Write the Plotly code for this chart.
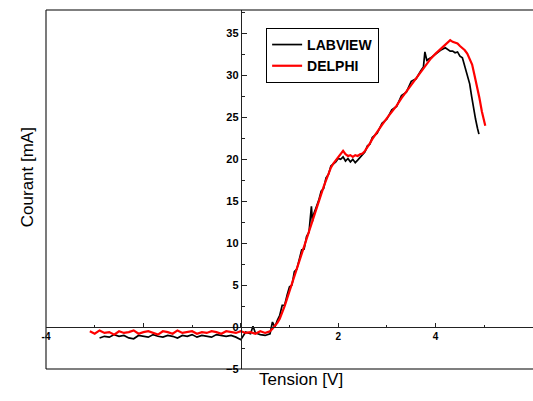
import plotly.graph_objects as go

# LABVIEW acquisition (black)
labview_v = [
    -2.9, -2.8, -2.7, -2.6, -2.5, -2.4, -2.3, -2.2, -2.1, -2.0,
    -1.9, -1.8, -1.7, -1.6, -1.5, -1.4, -1.3, -1.2, -1.1, -1.0,
    -0.9, -0.8, -0.7, -0.6, -0.5, -0.4, -0.3, -0.2, -0.1, 0.0,
    0.1, 0.2, 0.25, 0.3, 0.4, 0.5, 0.55,
    0.60, 0.65, 0.70, 0.75, 0.80, 0.85, 0.90, 0.95, 1.00, 1.05,
    1.10, 1.15, 1.20, 1.25, 1.30, 1.35, 1.40, 1.43, 1.45, 1.47,
    1.50, 1.55, 1.60, 1.65, 1.70, 1.75, 1.80, 1.85, 1.90, 1.95,
    2.00, 2.05, 2.10, 2.15, 2.20, 2.25, 2.30, 2.35, 2.40, 2.45,
    2.50, 2.55, 2.60, 2.65, 2.70, 2.80, 2.90, 3.00, 3.10, 3.20,
    3.30, 3.40, 3.50, 3.60, 3.70, 3.75, 3.78, 3.82, 3.90, 4.00,
    4.10, 4.20, 4.25, 4.30, 4.35, 4.40, 4.45, 4.50, 4.55, 4.58,
    4.62, 4.66, 4.70, 4.74, 4.78, 4.82, 4.86, 4.89,
]
labview_i = [
    -1.3, -1.1, -1.2, -0.9, -1.1, -1.0, -1.3, -1.4, -1.0, -1.1,
    -1.2, -0.9, -1.1, -1.2, -1.0, -1.1, -1.3, -1.0, -1.1, -0.9,
    -1.2, -1.0, -1.1, -1.2, -0.9, -1.0, -1.1, -1.0, -1.2, -1.5,
    -0.6, -0.8, 0.1, -0.7, -0.9, -1.0, -0.9,
    -0.8, 0.6, 0.0, 0.8, 1.4, 2.6, 2.6, 3.8, 4.8, 5.0,
    6.6, 6.9, 8.2, 9.2, 9.3, 10.8, 11.3, 13.0, 14.4, 12.6,
    13.5, 14.3, 15.1, 16.2, 16.5, 17.8, 18.2, 19.2, 19.4, 19.7,
    20.1, 20.0, 20.3, 19.8, 20.1, 19.7, 20.0, 19.6, 19.9, 20.2,
    20.5, 20.9, 21.6, 21.8, 22.6, 23.1, 24.3, 24.8, 25.9, 26.3,
    27.6, 28.0, 29.3, 29.6, 30.6, 31.0, 32.8, 31.8, 32.1, 32.6,
    33.0, 33.3, 33.1, 32.9, 32.9, 32.7, 32.8, 32.3, 32.1, 31.5,
    30.9, 30.0, 29.0, 27.5, 26.0, 24.8, 23.7, 23.0,
]

# DELPHI acquisition (red)
delphi_v = [
    -3.1, -3.0, -2.9, -2.8, -2.7, -2.6, -2.5, -2.4, -2.3, -2.2,
    -2.1, -2.0, -1.9, -1.8, -1.7, -1.6, -1.5, -1.4, -1.3, -1.2,
    -1.1, -1.0, -0.9, -0.8, -0.7, -0.6, -0.5, -0.4, -0.3, -0.2,
    -0.1, 0.0, 0.1, 0.2, 0.3, 0.4, 0.5, 0.55,
    0.60, 0.65, 0.70, 0.75, 0.80, 0.85, 0.90, 0.95, 1.00, 1.05,
    1.10, 1.15, 1.20, 1.25, 1.30, 1.35, 1.40, 1.45, 1.50, 1.55,
    1.60, 1.65, 1.70, 1.75, 1.80, 1.85, 1.90, 1.95, 2.00, 2.05,
    2.10, 2.15, 2.20, 2.25, 2.30, 2.35, 2.40, 2.45, 2.50, 2.55,
    2.60, 2.65, 2.70, 2.80, 2.90, 3.00, 3.10, 3.20, 3.30, 3.40,
    3.50, 3.60, 3.70, 3.80, 3.90, 4.00, 4.10, 4.20, 4.25, 4.30,
    4.35, 4.40, 4.45, 4.50, 4.55, 4.60, 4.65, 4.70, 4.75, 4.80,
    4.85, 4.90, 4.95, 5.00, 5.02,
]
delphi_i = [
    -0.5, -0.8, -0.4, -0.7, -0.6, -0.9, -0.5, -0.7, -0.6, -0.4,
    -0.8, -0.6, -0.5, -0.7, -0.9, -0.5, -0.6, -0.8, -0.4, -0.7,
    -0.6, -0.5, -0.8, -0.6, -0.7, -0.5, -0.6, -0.8, -0.5, -0.6,
    -0.7, -0.5, -0.7, -0.6, -0.8, -0.5, -0.7, -0.6,
    -0.5, -0.2, 0.1, 0.5, 1.0, 1.7, 2.5, 3.4, 4.3, 5.2,
    6.1, 7.0, 7.9, 8.8, 9.6, 10.5, 11.4, 12.3, 13.2, 14.0,
    14.9, 15.8, 16.7, 17.5, 18.3, 19.0, 19.5, 19.9, 20.3, 20.6,
    21.0, 20.6, 20.4, 20.5, 20.3, 20.5, 20.4, 20.6, 20.7, 21.0,
    21.4, 21.9, 22.4, 23.3, 24.1, 24.9, 25.6, 26.4, 27.3, 28.1,
    28.9, 29.7, 30.5, 31.3, 32.0, 32.6, 33.1, 33.7, 33.9, 34.2,
    34.0, 33.9, 33.8, 33.5, 33.3, 33.0, 32.6, 32.0, 31.3, 30.0,
    28.8, 27.3, 25.7, 24.4, 24.0,
]

y_ticks = [-5, 0, 5, 10, 15, 20, 25, 30, 35]
x_ticks = [-4, -2, 0, 2, 4, 6]
x_tick_text = ["-4", "", "", "2", "4", "6"]

X_RANGE = [-4, 6]
Y_RANGE = [-5, 37.8]

FONT = "Liberation Sans, Arial, sans-serif"
AXIS_COLOR = "#222222"

fig = go.Figure()
fig.add_trace(go.Scatter(
    x=labview_v, y=labview_i, mode="lines", name="LABVIEW",
    line=dict(color="black", width=1.7),
))
fig.add_trace(go.Scatter(
    x=delphi_v, y=delphi_i, mode="lines", name="DELPHI",
    line=dict(color="#ff0000", width=2.2),
))

# axes cross at the origin
x_pos = (0 - Y_RANGE[0]) / (Y_RANGE[1] - Y_RANGE[0])
y_pos = (0 - X_RANGE[0]) / (X_RANGE[1] - X_RANGE[0])

fig.update_layout(
    width=533, height=401,
    margin=dict(l=46, r=0, t=10, b=32),
    paper_bgcolor="white", plot_bgcolor="white",
    showlegend=True,
    legend=dict(
        x=0.452, y=0.95, xanchor="left", yanchor="top",
        bgcolor="white", bordercolor="black", borderwidth=1,
        font=dict(family=FONT, size=14, color="black", weight="bold"),
        tracegroupgap=0, itemwidth=30,
    ),
    xaxis=dict(
        range=X_RANGE, anchor="free", position=x_pos, side="bottom",
        showline=True, linecolor=AXIS_COLOR, linewidth=1,
        showgrid=False, zeroline=False,
        tickmode="array", tickvals=x_ticks, ticktext=x_tick_text,
        ticks="inside", ticklen=4, tickcolor=AXIS_COLOR,
        minor=dict(ticks="inside", ticklen=2, dtick=1, tick0=-4,
                   tickcolor=AXIS_COLOR, showgrid=False),
        tickfont=dict(family=FONT, size=10, color="black", weight="bold"),
    ),
    yaxis=dict(
        range=Y_RANGE, anchor="free", position=y_pos, side="left",
        showline=True, linecolor=AXIS_COLOR, linewidth=1,
        showgrid=False, zeroline=False,
        tickmode="array", tickvals=y_ticks,
        ticks="inside", ticklen=5, tickcolor=AXIS_COLOR,
        minor=dict(ticks="inside", ticklen=3, dtick=2.5, tick0=0,
                   tickcolor=AXIS_COLOR, showgrid=False),
        tickfont=dict(family=FONT, size=11, color="black", weight="bold"),
    ),
    shapes=[
        dict(type="line", xref="paper", yref="paper", x0=0, x1=1, y0=1, y1=1,
             line=dict(color="black", width=1.2)),
        dict(type="line", xref="paper", yref="paper", x0=0, x1=0, y0=0, y1=1,
             line=dict(color=AXIS_COLOR, width=1.2)),
        dict(type="line", xref="paper", yref="paper", x0=0, x1=1, y0=0, y1=0,
             line=dict(color="black", width=1.2)),
    ],
    annotations=[
        dict(text="Courant [mA]", xref="paper", yref="paper",
             x=-0.06, y=0.535, textangle=-90, showarrow=False,
             font=dict(family=FONT, size=17, color="black")),
        dict(text="Tension [V]", xref="paper", yref="paper",
             x=0.524, y=-0.061, showarrow=False,
             font=dict(family=FONT, size=17, color="black")),
    ],
)

fig.write_html("out.html")
